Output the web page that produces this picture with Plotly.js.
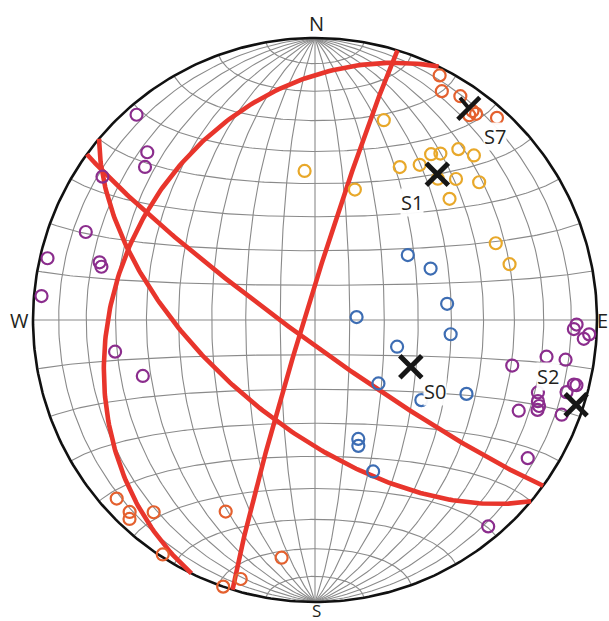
<!DOCTYPE html>
<html><head><meta charset="utf-8">
<script src="https://cdn.plot.ly/plotly-3.0.1.min.js"></script>
<style>html,body{margin:0;padding:0;background:#fff}</style>
</head><body>
<div id="chart" style="width:609px;height:621px"></div>
<script>
// ---- Data (lower-hemisphere, trend / plunge in degrees) ----
const planeStrike = [206, 197, 126, 130];
const planeDip    = [30, 87, 84, 60];

const orangeTrend  = [27, 29, 33, 37, 37, 38, 42, 228, 224, 223, 220, 213, 205, 199, 196, 188];
const orangePlunge = [3, 8, 6, 8, 10, 8, 4, 6, 6, 4, 12, 1, 26, 0, 5, 16];

const yellowTrend  = [356, 17, 19, 29, 34, 35, 37, 40, 44, 41, 45, 50, 48, 67, 74];
const yellowPlunge = [46, 50, 26, 38, 34, 29, 27, 22, 20, 34, 30, 25, 36, 31, 29];

const blueTrend  = [55, 66, 83, 86, 96, 108, 135, 127, 116, 160, 161, 159];
const bluePlunge = [57, 53, 51, 78, 50, 65, 64, 51, 40, 53, 51, 42];

const purpleTrend  = [319, 315, 312, 304, 291, 283, 285, 284, 275, 261, 252, 91, 92, 93, 94, 99, 99, 103, 104, 104, 106, 108, 110, 111, 112, 114, 111, 123, 140];
const purplePlunge = [4, 17, 20, 10, 14, 3, 22, 23, 3, 29, 36, 8, 9, 3, 5, 18, 11, 29, 6, 5, 8, 18, 17, 16, 16, 22, 7, 11, 5];

const axisNames  = ['S1', 'S0', 'S2'];
const axisTrend  = [40, 116, 108];
const axisPlunge = [33, 59, 3];

const s7Name = 'S7';
const s7Trend = 36;
const s7Plunge = 8;

const compassNames = ['N', 'E', 'S', 'W'];
const compassTrend = [0, 90, 180, 270];

// ---- Equal-area (Schmidt) projection helpers ----
const D2R = Math.PI / 180;
function proj(trend, plunge) {
  const r = Math.SQRT2 * Math.sin((90 - plunge) / 2 * D2R);
  return [r * Math.sin(trend * D2R), r * Math.cos(trend * D2R)];
}
function vecXY(n, e, d) {
  if (d < 0) { n = -n; e = -e; d = -d; }
  const L = Math.hypot(n, e, d); n /= L; e /= L; d /= L;
  const pl = Math.asin(Math.min(1, d)) / D2R;
  const tr = Math.atan2(e, n) / D2R;
  return proj(tr, pl);
}
function greatCircle(strike, dip, xs, ys) {
  const s = strike * D2R, dp = dip * D2R, dd = s + Math.PI / 2;
  const sv = [Math.cos(s), Math.sin(s), 0];
  const dv = [Math.cos(dp) * Math.cos(dd), Math.cos(dp) * Math.sin(dd), Math.sin(dp)];
  for (let a = 0; a <= 180; a += 1) {
    const c = Math.cos(a * D2R), sn = Math.sin(a * D2R);
    const p = vecXY(c * sv[0] + sn * dv[0], c * sv[1] + sn * dv[1], Math.abs(c * sv[2] + sn * dv[2]));
    xs.push(p[0]); ys.push(p[1]);
  }
  xs.push(null); ys.push(null);
}
function smallCircleNS(phi, xs, ys) {
  const cp = Math.cos(phi * D2R), sp = Math.sin(phi * D2R);
  for (let b = 0; b <= 180; b += 1) {
    const p = vecXY(cp, sp * Math.cos(b * D2R), sp * Math.sin(b * D2R));
    xs.push(p[0]); ys.push(p[1]);
  }
  xs.push(null); ys.push(null);
}

// ---- Grid ----
const gx = [], gy = [];
for (let dip = 10; dip <= 90; dip += 10) greatCircle(0, dip, gx, gy);
for (let dip = 10; dip < 90; dip += 10) greatCircle(180, dip, gx, gy);
for (let phi = 10; phi < 180; phi += 10) smallCircleNS(phi, gx, gy);

const rx = [], ry = [];
for (let t = 0; t <= 360; t += 1) { const p = proj(t, 0); rx.push(p[0]); ry.push(p[1]); }

const traces = [];
traces.push({x: gx, y: gy, mode: 'lines', line: {color: '#8a8a8a', width: 1.1}, hoverinfo: 'skip'});
traces.push({x: rx, y: ry, mode: 'lines', line: {color: '#111', width: 2.6}, hoverinfo: 'skip'});

const px = [], py = [];
for (let i = 0; i < planeStrike.length; i++) greatCircle(planeStrike[i], planeDip[i], px, py);
traces.push({x: px, y: py, mode: 'lines', line: {color: '#e8352c', width: 4.6}, hoverinfo: 'skip'});

function pointTrace(tr, pl, color) {
  const xs = [], ys = [];
  for (let i = 0; i < tr.length; i++) { const p = proj(tr[i], pl[i]); xs.push(p[0]); ys.push(p[1]); }
  return {x: xs, y: ys, mode: 'markers',
    marker: {symbol: 'circle-open', size: 12, color: color, line: {width: 2.2, color: color}}};
}
traces.push(pointTrace(orangeTrend, orangePlunge, '#e4602e'));
traces.push(pointTrace(yellowTrend, yellowPlunge, '#e8a82a'));
traces.push(pointTrace(blueTrend, bluePlunge, '#3d6db3'));
traces.push(pointTrace(purpleTrend, purplePlunge, '#8b2d8d'));

const ax = [], ay = [];
for (let i = 0; i < axisTrend.length; i++) { const p = proj(axisTrend[i], axisPlunge[i]); ax.push(p[0]); ay.push(p[1]); }
traces.push({x: ax, y: ay, mode: 'markers',
  marker: {symbol: 'x-thin', size: 22, line: {width: 5, color: '#161616'}}});
const s7 = proj(s7Trend, s7Plunge);
traces.push({x: [s7[0]], y: [s7[1]], mode: 'markers',
  marker: {symbol: 'line-ne', size: 22, line: {width: 4.5, color: '#161616'}}});

const font = {family: 'Open Sans, Arial, sans-serif', size: 20, color: '#231f20'};
const annotations = [];
const labelShift = {S1: [-25, -28], S0: [24, -25], S2: [-28, 28]};
for (let i = 0; i < axisNames.length; i++) {
  annotations.push({x: ax[i], y: ay[i], text: axisNames[i], showarrow: false,
    xshift: labelShift[axisNames[i]][0], yshift: labelShift[axisNames[i]][1],
    bgcolor: 'rgba(255,255,255,0.95)', borderpad: 0, font: font});
}
annotations.push({x: s7[0], y: s7[1], text: s7Name, showarrow: false, xshift: 26, yshift: -28,
  bgcolor: 'rgba(255,255,255,0.95)', borderpad: 0, font: font});
annotations.push({x: s7[0], y: s7[1], text: '', showarrow: true, arrowhead: 0, standoff: 0,
  ax: -10, ay: -12, arrowwidth: 4, arrowcolor: '#161616'});
const compassShift = {N: [1, 15], E: [5, 0], S: [1, -8], W: [-14, 0]};
const compassSize = {N: 20, E: 20, S: 17, W: 20};
for (let i = 0; i < compassNames.length; i++) {
  const p = proj(compassTrend[i], 0);
  const nm = compassNames[i];
  annotations.push({x: p[0], y: p[1], text: nm, showarrow: false,
    xshift: compassShift[nm][0], yshift: compassShift[nm][1],
    font: {family: font.family, size: compassSize[nm], color: font.color}});
}

const layout = {
  width: 609, height: 621, margin: {l: 0, r: 0, t: 0, b: 0},
  paper_bgcolor: '#fff', plot_bgcolor: '#fff', showlegend: false,
  xaxis: {range: [-315 / 282, 294 / 282], visible: false, fixedrange: true},
  yaxis: {range: [-301 / 282, 320 / 282], visible: false, fixedrange: true},
  annotations: annotations
};
Plotly.newPlot('chart', traces, layout, {staticPlot: true});
</script>
</body></html>
